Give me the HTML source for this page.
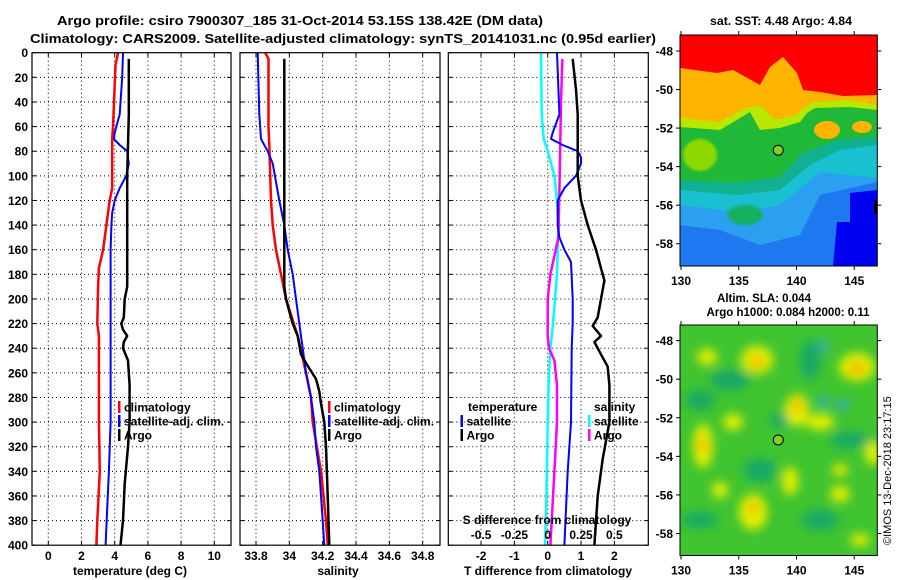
<!DOCTYPE html>
<html><head><meta charset="utf-8">
<style>
body{margin:0;background:#fff;}
svg{display:block;font-family:"Liberation Sans",Arial,sans-serif;font-weight:bold;}
</style></head>
<body>
<svg id="fig" width="900" height="580" viewBox="0 0 900 580" xmlns="http://www.w3.org/2000/svg">
<defs>
<clipPath id="m1clip"><rect x="680" y="35" width="197.3" height="231"/></clipPath>
<clipPath id="m2clip"><rect x="680" y="325" width="197.3" height="230.5"/></clipPath>
<filter id="blur4" x="-50%" y="-50%" width="200%" height="200%"><feGaussianBlur stdDeviation="5"/></filter>
<filter id="blur2"><feGaussianBlur stdDeviation="1.2"/></filter>
</defs>
<text x="300" y="25" font-size="13" text-anchor="middle" textLength="486" lengthAdjust="spacingAndGlyphs">Argo profile: csiro 7900307_185 31-Oct-2014 53.15S 138.42E (DM data)</text>
<text x="343" y="43" font-size="13" text-anchor="middle" textLength="626" lengthAdjust="spacingAndGlyphs">Climatology: CARS2009. Satellite-adjusted climatology: synTS_20141031.nc (0.95d earlier)</text>
<text x="781" y="25" font-size="11.5" text-anchor="middle" textLength="142" lengthAdjust="spacingAndGlyphs">sat. SST: 4.48 Argo: 4.84</text>
<text x="764" y="302" font-size="11.5" text-anchor="middle">Altim. SLA: 0.044</text>
<text x="788" y="316" font-size="11.5" text-anchor="middle">Argo h1000: 0.084 h2000: 0.11</text>
<g id="panels"></g>
<g id="maps"></g>
<text transform="translate(891,545) rotate(-90)" font-size="11" font-weight="normal">©IMOS 13-Dec-2018 23:17:15</text>
</svg>
<script>
// ---- data ----
const tClimDepth=[0,10,60,70,110,120,140,160,175,190,220,230,300,340,380,400];
const tClimVal=[4.2,4.05,3.9,3.85,3.85,3.7,3.5,3.3,3.05,3.0,2.95,3.05,3.05,3.1,2.95,2.9];
const tSatDepth=[0,20,50,65,70,75,80,90,100,110,120,130,140,160,300,340,370,400];
const tSatVal=[4.5,4.45,4.3,4.0,3.95,4.3,4.75,4.85,4.7,4.3,4.0,3.85,3.8,3.75,3.75,3.65,3.55,3.45];
const tArgoDepth=[5,50,100,190,200,215,220,225,230,235,240,250,270,300,320,350,380,400];
const tArgoVal=[4.85,4.85,4.75,4.75,4.6,4.55,4.4,4.5,4.75,4.55,4.5,4.8,4.9,4.9,4.8,4.6,4.5,4.35];
const sClimDepth=[0,5,60,75,120,140,160,180,200,230,260,280,300,340,380,400];
const sClimVal=[33.855,33.875,33.875,33.88,33.89,33.9,33.92,33.95,33.98,34.05,34.1,34.13,34.14,34.19,34.22,34.23];
const sSatDepth=[0,50,70,75,80,90,120,140,160,180,200,220,240,260,280,300,320,340,360,380,400];
const sSatVal=[33.81,33.82,33.83,33.85,33.87,33.9,33.94,33.97,33.99,34.02,34.04,34.06,34.08,34.1,34.13,34.15,34.16,34.18,34.19,34.2,34.21];
const sArgoDepth=[5,190,200,210,220,230,245,252,265,275,285,300,320,360,400];
const sArgoVal=[33.97,33.97,33.98,34.0,34.02,34.05,34.07,34.1,34.16,34.18,34.19,34.21,34.22,34.23,34.24];
const dTSatDepth=[0,50,65,70,75,80,85,90,100,110,120,140,150,160,170,200,220,240,300,340,400];
const dTSatVal=[0.28,0.35,0.15,0.1,0.45,0.9,1.0,1.0,0.85,0.5,0.3,0.3,0.35,0.5,0.7,0.75,0.75,0.72,0.7,0.6,0.5];
const dTArgoDepth=[5,30,50,100,120,140,160,175,185,200,215,222,230,235,245,255,270,300,330,360,400];
const dTArgoVal=[0.75,0.85,0.9,0.9,1.0,1.2,1.45,1.6,1.7,1.6,1.5,1.35,1.6,1.4,1.6,1.8,1.85,1.85,1.65,1.5,1.4];
const dSSatDepth=[0,50,70,80,100,120,140,180,220,240,260,300,360,400];
const dSSatVal=[-0.05,-0.045,-0.03,0.0,0.05,0.07,0.08,0.07,0.04,0.02,0.01,0.0,-0.01,-0.02];
const dSArgoDepth=[5,40,100,150,160,180,200,230,240,250,270,300,340,400];
const dSArgoVal=[0.11,0.1,0.09,0.08,0.06,0.02,0.0,0.0,0.01,0.05,0.07,0.07,0.05,0.02];
const depthTicks=[0,20,40,60,80,100,120,140,160,180,200,220,240,260,280,300,320,340,360,380,400];
const tempTicks=[0,2,4,6,8,10];
const salTicks=[33.8,34,34.2,34.4,34.6,34.8];
const dTTicks=[-2,-1,0,1,2];
const dSTicks=[-0.5,-0.25,0,0.25,0.5];
const sstLat=[-48,-50,-52,-54,-56,-58];
const lonTicks=[130,135,140,145];
const argoLon=138.42, argoLat=-53.15;

const NS="http://www.w3.org/2000/svg";
const svg=document.getElementById('fig');
function mk(tag,attrs,parent){const e=document.createElementNS(NS,tag);for(const k in attrs)e.setAttribute(k,attrs[k]);(parent||svg).appendChild(e);return e;}
function txt(s,attrs,parent){const e=mk('text',attrs,parent);e.textContent=s;return e;}

const Y0=52.7,Y1=545.2;
const yD=d=>Y0+(d/400)*(Y1-Y0);
const panels=document.getElementById('panels');
const P1={x0:32,x1:231,sx:v=>48.3+16.6*v};
const P2={x0:240,x1:440,sx:v=>256+166.7*(v-33.8)};
const P3={x0:448.3,x1:648.3,sx:v=>547.7+33.33*v,ss:v=>547.7+133.3*v};

function grid(P,ticks,sx,g){
  ticks.forEach(t=>{const x=sx(t);mk('line',{x1:x,x2:x,y1:Y0,y2:Y1,stroke:'#000','stroke-width':1,'stroke-dasharray':'1,3'},g);
    mk('line',{x1:x,x2:x,y1:Y1,y2:Y1-4,stroke:'#000'},g);mk('line',{x1:x,x2:x,y1:Y0,y2:Y0+4,stroke:'#000'},g);});
  depthTicks.forEach(d=>{const y=yD(d);if(d>0&&d<400)mk('line',{x1:P.x0,x2:P.x1,y1:y,y2:y,stroke:'#000','stroke-width':1,'stroke-dasharray':'1,3'},g);
    mk('line',{x1:P.x0,x2:P.x0+4,y1:y,y2:y,stroke:'#000'},g);mk('line',{x1:P.x1,x2:P.x1-4,y1:y,y2:y,stroke:'#000'},g);});
}
function frame(P,g){mk('rect',{x:P.x0,y:Y0,width:P.x1-P.x0,height:Y1-Y0,fill:'none',stroke:'#000','stroke-width':1.2},g);}
function line(depths,vals,sx,color,w,name,g){
  const pts=depths.map((d,i)=>sx(vals[i]).toFixed(1)+','+yD(d).toFixed(1)).join(' ');
  const p=mk('polyline',{points:pts,fill:'none',stroke:color,'stroke-width':w,'stroke-linejoin':'round'},g);
  
  
}
function legend(items,bx,ys,g){items.forEach((it,i)=>{mk('rect',{x:bx,y:ys[i]-6,width:2.5,height:12,fill:it[1]},g);
  txt(it[0],{x:bx+6,y:ys[i]+4.5,'font-size':12},g);});}

// panel 1
const g1=mk('g',{},panels);
grid(P1,tempTicks,P1.sx,g1);
line(tClimDepth,tClimVal,P1.sx,'#f00',2.5,'temp-climatology-line',g1);
line(tSatDepth,tSatVal,P1.sx,'#00f',2,'temp-satellite-line',g1);
line(tArgoDepth,tArgoVal,P1.sx,'#000',2.5,'temp-argo-line',g1);
frame(P1,g1);
depthTicks.forEach(d=>txt(String(d),{x:28,y:yD(d)+4.5,'font-size':12,'text-anchor':'end'},g1));
tempTicks.forEach(t=>txt(String(t),{x:P1.sx(t),y:560,'font-size':12,'text-anchor':'middle'},g1));
txt('temperature (deg C)',{x:130,y:575,'font-size':12,'text-anchor':'middle'},g1);
legend([['climatology','#f00'],['satellite-adj. clim.','#00f'],['Argo','#000']],118,[407,421,435],g1);

// panel 2
const g2=mk('g',{},panels);
grid(P2,salTicks,P2.sx,g2);
line(sClimDepth,sClimVal,P2.sx,'#f00',2.5,'sal-climatology-line',g2);
line(sSatDepth,sSatVal,P2.sx,'#00f',2,'sal-satellite-line',g2);
line(sArgoDepth,sArgoVal,P2.sx,'#000',2.5,'sal-argo-line',g2);
frame(P2,g2);
salTicks.forEach(t=>txt(String(t),{x:P2.sx(t),y:560,'font-size':12,'text-anchor':'middle'},g2));
txt('salinity',{x:338,y:575,'font-size':12,'text-anchor':'middle'},g2);
legend([['climatology','#f00'],['satellite-adj. clim.','#00f'],['Argo','#000']],328,[407,421,435],g2);

// panel 3
const g3=mk('g',{},panels);
grid(P3,dTTicks,P3.sx,g3);
line(dSSatDepth,dSSatVal,P3.ss,'#0ff',2.5,'s-diff-satellite-line',g3);
line(dSArgoDepth,dSArgoVal,P3.ss,'#f0f',2.5,'s-diff-argo-line',g3);
line(dTSatDepth,dTSatVal,P3.sx,'#00f',2,'t-diff-satellite-line',g3);
line(dTArgoDepth,dTArgoVal,P3.sx,'#000',2.5,'t-diff-argo-line',g3);
frame(P3,g3);
dTTicks.forEach(t=>txt(String(t),{x:P3.sx(t),y:560,'font-size':12,'text-anchor':'middle'},g3));
txt('T difference from climatology',{x:548,y:575,'font-size':12,'text-anchor':'middle'},g3);
txt('S difference from climatology',{x:547,y:524,'font-size':12,'text-anchor':'middle'},g3);
dSTicks.forEach(t=>txt(String(t),{x:P3.ss(t),y:539,'font-size':12,'text-anchor':'middle'},g3));
txt('temperature',{x:468,y:411,'font-size':12},g3);
legend([['satellite','#00f'],['Argo','#000']],460.5,[421,435],g3);
txt('salinity',{x:594,y:411,'font-size':12},g3);
legend([['satellite','#0ff'],['Argo','#f0f']],588,[421,435],g3);

// ---- maps ----
const maps=document.getElementById('maps');
const MX0=680,MX1=877.3;
const lonX=l=>681+(l-130)*11.55;
const lat1=la=>51+(-48-la)*19.27;
const lat2=la=>340.6+(-48-la)*19.29;

const m1=mk('g',{'clip-path':'url(#m1clip)'},maps);
mk('rect',{x:680,y:35,width:198,height:231,fill:'#1e78f0'},m1);
mk('polygon',{points:'680,35 680,225 720,230 760,245 800,235 820,195 877,182 877,35',fill:'#2ca0f0'},m1);
mk('polygon',{points:'680,35 680,205 737,212 780,205 820,172 877,178 877,35',fill:'#18c0d0'},m1);
mk('polygon',{points:'680,35 680,190 737,195 780,190 810,165 840,150 877,145 877,35',fill:'#10b090'},m1);
mk('polygon',{points:'680,35 680,180 737,183 780,177 803,153 837,140 877,137 877,35',fill:'#20b838'},m1);
mk('polygon',{points:'680,35 680,127 720,130 745,115 750,112 760,130 780,128 800,122 807,113 815,108 850,107 877,110 877,35',fill:'#b8e800'},m1);
mk('polygon',{points:'680,35 680,118 720,122 745,108 760,105 775,120 795,115 812,102 850,100 877,105 877,35',fill:'#ffb400'},m1);
mk('ellipse',{cx:827,cy:130,rx:13,ry:9,fill:'#ffb400'},m1);
mk('ellipse',{cx:862,cy:127,rx:10,ry:6,fill:'#ffb400'},m1);
mk('ellipse',{cx:700,cy:155,rx:17,ry:16,fill:'#8cd800',filter:'url(#blur2)'},m1);
mk('ellipse',{cx:745,cy:215,rx:18,ry:10,fill:'#14b060',filter:'url(#blur2)'},m1);
mk('polygon',{points:'850,266 850,193 877,190 877,266',fill:'#0000f0'},m1);
mk('polygon',{points:'833,266 837,222 852,222 852,266',fill:'#0000f0'},m1);
mk('polygon',{points:'680,35 680,68 717,73 733,70 760,85 770,67 783,57 797,73 803,90 820,92 843,96 877,95 877,35',fill:'#f00'},m1);
mk('rect',{x:874,y:200,width:4,height:14,fill:'#000'},m1);

const m2=mk('g',{'clip-path':'url(#m2clip)'},maps);
mk('rect',{x:680,y:325,width:198,height:231,fill:'#40c430'},m2);
const gb=mk('g',{filter:'url(#blur4)'},m2);
[[730,380,20,10],[810,360,10,20],[700,400,14,10],[850,440,20,8],[760,470,16,12],[820,520,18,10],[700,520,18,8],[780,420,10,8]].forEach(e=>mk('ellipse',{cx:e[0],cy:e[1],rx:e[2],ry:e[3],fill:'#14a868'},gb));
[[707,357,10,8],[757,360,16,14],[857,367,18,14],[797,410,12,16],[820,422,14,8],[703,446,10,22],[733,422,10,8],[753,512,14,18],[873,453,8,12],[840,494,10,8],[790,481,8,14],[720,490,8,8],[860,540,10,6],[840,470,8,6]].forEach(e=>mk('ellipse',{cx:e[0],cy:e[1],rx:e[2],ry:e[3],fill:'#e8f000'},gb));
[[757,362,7,6],[857,368,9,6],[797,406,5,7],[753,508,5,7],[703,445,4,8]].forEach(e=>mk('ellipse',{cx:e[0],cy:e[1],rx:e[2],ry:e[3],fill:'#f0b400'},gb));
[[823,401,6,4],[842,405,6,5],[823,346,4,6]].forEach(e=>mk('ellipse',{cx:e[0],cy:e[1],rx:e[2],ry:e[3],fill:'#30a8e0'},gb));

function mapAxes(top,bot,latF,g){
  mk('rect',{x:MX0,y:top,width:MX1-MX0,height:bot-top,fill:'none',stroke:'#000','stroke-width':1},g);
  sstLat.forEach(la=>{const y=latF(la);mk('line',{x1:MX0,x2:MX0-4,y1:y,y2:y,stroke:'#000'},g);mk('line',{x1:MX1,x2:MX1+4,y1:y,y2:y,stroke:'#000'},g);
    txt(String(la),{x:673,y:y+4.5,'font-size':12,'text-anchor':'end'},g);});
  lonTicks.forEach(l=>{const x=lonX(l);mk('line',{x1:x,x2:x,y1:top,y2:top-4,stroke:'#000'},g);mk('line',{x1:x,x2:x,y1:bot,y2:bot+4,stroke:'#000'},g);
    txt(String(l),{x:x,y:bot+19,'font-size':12,'text-anchor':'middle'},g);});
}
const a1=mk('g',{},maps);
mapAxes(35,266,lat1,a1);
const a2=mk('g',{},maps);
mapAxes(325,555.5,lat2,a2);
const c1=mk('circle',{cx:lonX(argoLon),cy:lat1(argoLat),r:5,fill:'#80d020',stroke:'#000','stroke-width':1},maps);


const c2=mk('circle',{cx:lonX(argoLon),cy:lat2(argoLat),r:5,fill:'#80d020',stroke:'#000','stroke-width':1},maps);


</script>
</body></html>
